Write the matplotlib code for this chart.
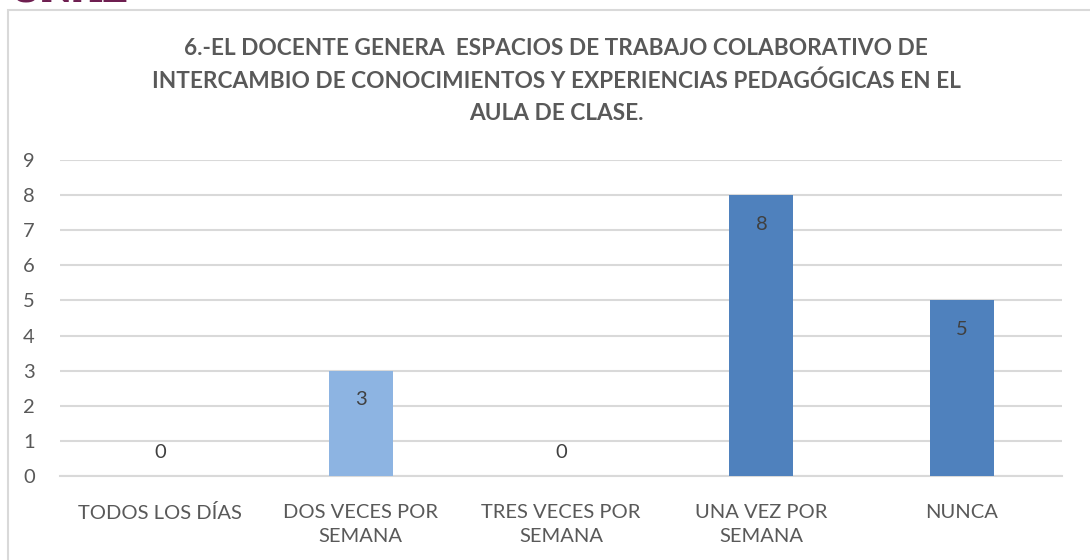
import matplotlib
matplotlib.use("Agg")
import matplotlib.pyplot as plt
from matplotlib.patches import Rectangle

categories = ["TODOS LOS DÍAS", "DOS VECES POR\nSEMANA", "TRES VECES POR\nSEMANA", "UNA VEZ POR\nSEMANA", "NUNCA"]
values = [0, 3, 0, 8, 5]
bar_colors = ["#8DB4E2", "#8DB4E2", "#8DB4E2", "#4F81BD", "#4F81BD"]
yticks = list(range(0, 10))
title = ("6.-EL DOCENTE GENERA  ESPACIOS DE TRABAJO COLABORATIVO DE\n"
         "INTERCAMBIO DE CONOCIMIENTOS Y EXPERIENCIAS PEDAGÓGICAS EN EL\n"
         "AULA DE CLASE.")

plt.rcParams['font.family'] = ['Lato', 'DejaVu Sans']

W, H = 1090, 560
fig = plt.figure(figsize=(W / 100, H / 100), dpi=100)
fig.patch.set_facecolor("white")

# chart border (left and top visible)
fig.add_artist(Rectangle((8 / W, -0.1), 1.2, (H - 10) / H + 0.1, transform=fig.transFigure,
                         fill=False, edgecolor="#D9D9D9", linewidth=1.5))

# fragment of logo at top
fig.text(10 / W, 1.0 + 8 / H, "UNAL", fontsize=26, fontweight="bold", color="#6E1E50",
         ha="left", va="center", family=["DejaVu Serif"])

ax = fig.add_axes([60 / W, 84 / H, (1062 - 60) / W, (476 - 160) / H])
x = list(range(len(categories)))
bars = ax.bar(x, values, width=0.32, color=bar_colors, zorder=3)
ax.set_xlim(-0.5, len(categories) - 0.5)
ax.set_ylim(0, 9)
ax.set_yticks(yticks)
ax.set_xticks(x)
ax.set_xticklabels(categories, fontsize=14.5, color="#595959", linespacing=1.55)
ax.tick_params(axis="y", labelsize=14.5, labelcolor="#595959", length=0, pad=18)
ax.tick_params(axis="x", length=0, pad=20)
ax.grid(axis="y", color="#D9D9D9", linewidth=1.5, zorder=0)
for s in ["top", "right", "left"]:
    ax.spines[s].set_visible(False)
ax.spines["bottom"].set_color("#D9D9D9")
ax.spines["bottom"].set_linewidth(1.5)

for xi, v in zip(x, values):
    if v > 0:
        ax.annotate(str(v), (xi, v), xytext=(0, -29), textcoords="offset pixels",
                    ha="center", va="center", fontsize=14.5, color="#404040", zorder=4)
    else:
        ax.annotate(str(v), (xi, v), xytext=(0, 24), textcoords="offset pixels",
                    ha="center", va="center", fontsize=14.5, color="#404040", zorder=4)

fig.text(556 / W, 1 - 81 / H, title, ha="center", va="center", fontsize=16.3,
         fontweight="bold", color="#595959", linespacing=1.68)

fig.savefig("out.png", dpi=100, facecolor="white")
